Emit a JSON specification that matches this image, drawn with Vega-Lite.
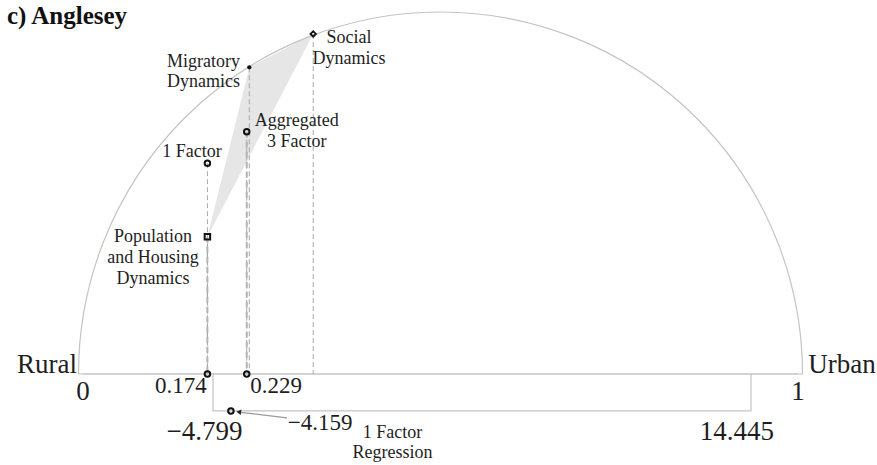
{
  "$schema": "https://vega.github.io/schema/vega-lite/v6.json",
  "width": 877,
  "height": 465,
  "autosize": {"type": "none"},
  "padding": 0,
  "background": "white",
  "config": {"view": {"stroke": null}, "text": {"font": "Liberation Serif", "color": "#1e1e1e"}},
  "title": {"text": "c) Anglesey", "font": "Liberation Serif", "fontSize": 25, "fontWeight": "bold", "color": "#111", "anchor": "start", "frame": "group", "offset": -29, "dx": 7},
  "datasets": {
    "origin": [{"x": 0.5, "y": 0}],
    "baseline": [{"x": 0, "x2": 1, "y": 0}],
    "factors": [
      {"name": "Population and Housing Dynamics", "x": 0.174, "y": 0.375, "marker": "square", "o": 1},
      {"name": "Migratory Dynamics", "x": 0.2326, "y": 0.838, "marker": "dot", "o": 2},
      {"name": "Social Dynamics", "x": 0.322, "y": 0.929, "marker": "diamond", "o": 3},
      {"name": "1 Factor", "x": 0.174, "y": 0.576, "marker": "open", "o": 4},
      {"name": "Aggregated 3 Factor", "x": 0.229, "y": 0.662, "marker": "open", "o": 5}
    ],
    "axisPts": [{"x": 0.174, "y": 0}, {"x": 0.229, "y": 0}],
    "labSmall": [
      {"t": "Social", "x": 0.372, "y": 0.904},
      {"t": "Dynamics", "x": 0.372, "y": 0.847},
      {"t": "Migratory", "x": 0.1685, "y": 0.839},
      {"t": "Dynamics", "x": 0.1685, "y": 0.784},
      {"t": "Aggregated", "x": 0.299, "y": 0.678},
      {"t": "3 Factor", "x": 0.299, "y": 0.62},
      {"t": "1 Factor", "x": 0.1524, "y": 0.593},
      {"t": "Population", "x": 0.098, "y": 0.361},
      {"t": "and Housing", "x": 0.098, "y": 0.303},
      {"t": "Dynamics", "x": 0.098, "y": 0.246}
    ],
    "labMid": [
      {"t": "0.174", "x": 0.137, "y": -0.052},
      {"t": "0.229", "x": 0.27, "y": -0.052}
    ],
    "labBig": [
      {"t": "Rural", "x": -0.0503, "y": 0.0027},
      {"t": "Urban", "x": 1.0615, "y": 0.0027},
      {"t": "0", "x": 0.0, "y": -0.071},
      {"t": "1", "x": 1.0, "y": -0.07}
    ],
    "bracket": [
      {"v": -4.799, "y": 0, "o": 1},
      {"v": -4.799, "y": -0.101, "o": 2},
      {"v": 14.445, "y": -0.101, "o": 3},
      {"v": 14.445, "y": 0, "o": 4}
    ],
    "regression": [{"v": -4.159, "y": -0.101}],
    "arrow": [
      {"v": -3.9, "y": -0.104, "o": 1},
      {"v": -2.15, "y": -0.12, "o": 2}
    ],
    "arrowHead": [{"v": -3.88, "y": -0.104}],
    "lowBig": [
      {"t": "−4.799", "v": -5.103, "y": -0.18},
      {"t": "14.445", "v": 13.944, "y": -0.18}
    ],
    "lowMid": [{"t": "−4.159", "v": -0.97, "y": -0.153}],
    "lowSmall": [
      {"t": "1 Factor", "v": 1.62, "y": -0.175},
      {"t": "Regression", "v": 1.62, "y": -0.2295}
    ]
  },
  "layer": [
    {
      "layer": [
        {
          "data": {"name": "factors"},
          "transform": [{"filter": "datum.marker != 'open'"}],
          "mark": {"type": "line", "fill": "#e6e6e6", "strokeWidth": 0, "stroke": null},
          "encoding": {
            "x": {"field": "x", "type": "quantitative", "scale": {"domain": [0, 1], "range": [83, 798], "nice": false, "zero": false}, "axis": null},
            "y": {"field": "y", "type": "quantitative", "scale": {"domain": [0, 1], "range": [374, 8], "nice": false, "zero": false}, "axis": null},
            "order": {"field": "o"}
          }
        },
        {
          "data": {"name": "origin"},
          "mark": {"type": "arc", "theta": -1.5708, "theta2": 1.5708, "radius": 362, "filled": false, "stroke": "#c4c4c4", "strokeWidth": 1.2},
          "encoding": {
            "x": {"field": "x", "type": "quantitative", "scale": {"domain": [0, 1], "range": [83, 798], "nice": false, "zero": false}},
            "y": {"field": "y", "type": "quantitative"}
          }
        },
        {
          "data": {"name": "baseline"},
          "mark": {"type": "rule", "stroke": "#c4c4c4", "strokeWidth": 1.2},
          "encoding": {
            "x": {"field": "x", "type": "quantitative", "scale": {"domain": [0, 1], "range": [83, 798], "nice": false, "zero": false}},
            "x2": {"field": "x2"},
            "y": {"field": "y", "type": "quantitative"}
          }
        },
        {
          "data": {"name": "factors"},
          "mark": {"type": "rule", "stroke": "#a8a8a8", "strokeWidth": 1, "strokeDash": [5, 3]},
          "encoding": {
            "x": {"field": "x", "type": "quantitative", "scale": {"domain": [0, 1], "range": [83, 798], "nice": false, "zero": false}},
            "y": {"field": "y", "type": "quantitative"},
            "y2": {"datum": 0}
          }
        },
        {
          "data": {"name": "factors"},
          "transform": [{"filter": "datum.marker == 'square' || datum.name == 'Aggregated 3 Factor'"}],
          "mark": {"type": "rule", "stroke": "#b4b4b4", "strokeWidth": 2, "strokeDash": [6, 4]},
          "encoding": {
            "x": {"field": "x", "type": "quantitative", "scale": {"domain": [0, 1], "range": [83, 798], "nice": false, "zero": false}},
            "y": {"field": "y", "type": "quantitative"},
            "y2": {"datum": 0}
          }
        },
        {
          "data": {"name": "factors"},
          "transform": [{"filter": "datum.marker == 'open'"}],
          "mark": {"type": "point", "shape": "circle", "size": 30, "filled": false, "stroke": "#111", "strokeWidth": 2, "opacity": 1},
          "encoding": {
            "x": {"field": "x", "type": "quantitative", "scale": {"domain": [0, 1], "range": [83, 798], "nice": false, "zero": false}},
            "y": {"field": "y", "type": "quantitative"}
          }
        },
        {
          "data": {"name": "axisPts"},
          "mark": {"type": "point", "shape": "circle", "size": 30, "filled": false, "stroke": "#111", "strokeWidth": 2, "opacity": 1},
          "encoding": {
            "x": {"field": "x", "type": "quantitative", "scale": {"domain": [0, 1], "range": [83, 798], "nice": false, "zero": false}},
            "y": {"field": "y", "type": "quantitative"}
          }
        },
        {
          "data": {"name": "factors"},
          "transform": [{"filter": "datum.marker == 'square'"}],
          "mark": {"type": "point", "shape": "square", "size": 30, "filled": false, "stroke": "#111", "strokeWidth": 2, "opacity": 1},
          "encoding": {
            "x": {"field": "x", "type": "quantitative", "scale": {"domain": [0, 1], "range": [83, 798], "nice": false, "zero": false}},
            "y": {"field": "y", "type": "quantitative"}
          }
        },
        {
          "data": {"name": "factors"},
          "transform": [{"filter": "datum.marker == 'dot'"}],
          "mark": {"type": "point", "shape": "circle", "size": 18, "filled": true, "fill": "#111", "opacity": 1},
          "encoding": {
            "x": {"field": "x", "type": "quantitative", "scale": {"domain": [0, 1], "range": [83, 798], "nice": false, "zero": false}},
            "y": {"field": "y", "type": "quantitative"}
          }
        },
        {
          "data": {"name": "factors"},
          "transform": [{"filter": "datum.marker == 'diamond'"}],
          "mark": {"type": "point", "shape": "diamond", "size": 30, "filled": false, "stroke": "#111", "strokeWidth": 1.8, "opacity": 1},
          "encoding": {
            "x": {"field": "x", "type": "quantitative", "scale": {"domain": [0, 1], "range": [83, 798], "nice": false, "zero": false}},
            "y": {"field": "y", "type": "quantitative"}
          }
        },
        {
          "data": {"name": "labSmall"},
          "mark": {"type": "text", "fontSize": 18, "align": "center", "baseline": "alphabetic"},
          "encoding": {
            "x": {"field": "x", "type": "quantitative", "scale": {"domain": [0, 1], "range": [83, 798], "nice": false, "zero": false}},
            "y": {"field": "y", "type": "quantitative"},
            "text": {"field": "t"}
          }
        },
        {
          "data": {"name": "labMid"},
          "mark": {"type": "text", "fontSize": 23, "align": "center", "baseline": "alphabetic"},
          "encoding": {
            "x": {"field": "x", "type": "quantitative", "scale": {"domain": [0, 1], "range": [83, 798], "nice": false, "zero": false}},
            "y": {"field": "y", "type": "quantitative"},
            "text": {"field": "t"}
          }
        },
        {
          "data": {"name": "labBig"},
          "mark": {"type": "text", "fontSize": 27, "align": "center", "baseline": "alphabetic"},
          "encoding": {
            "x": {"field": "x", "type": "quantitative", "scale": {"domain": [0, 1], "range": [83, 798], "nice": false, "zero": false}},
            "y": {"field": "y", "type": "quantitative"},
            "text": {"field": "t"}
          }
        }
      ]
    },
    {
      "layer": [
        {
          "data": {"name": "bracket"},
          "mark": {"type": "line", "stroke": "#c4c4c4", "strokeWidth": 1.2},
          "encoding": {
            "x": {"field": "v", "type": "quantitative", "scale": {"domain": [-4.799, 14.445], "range": [213, 751], "nice": false, "zero": false}, "axis": null},
            "y": {"field": "y", "type": "quantitative"},
            "order": {"field": "o"}
          }
        },
        {
          "data": {"name": "arrow"},
          "mark": {"type": "line", "stroke": "#9a9a9a", "strokeWidth": 1.2},
          "encoding": {
            "x": {"field": "v", "type": "quantitative", "scale": {"domain": [-4.799, 14.445], "range": [213, 751], "nice": false, "zero": false}},
            "y": {"field": "y", "type": "quantitative"},
            "order": {"field": "o"}
          }
        },
        {
          "data": {"name": "arrowHead"},
          "mark": {"type": "point", "shape": "triangle-left", "size": 30, "filled": true, "fill": "#222", "angle": 6, "opacity": 1},
          "encoding": {
            "x": {"field": "v", "type": "quantitative", "scale": {"domain": [-4.799, 14.445], "range": [213, 751], "nice": false, "zero": false}},
            "y": {"field": "y", "type": "quantitative"}
          }
        },
        {
          "data": {"name": "regression"},
          "mark": {"type": "point", "shape": "circle", "size": 30, "filled": false, "stroke": "#111", "strokeWidth": 2, "opacity": 1},
          "encoding": {
            "x": {"field": "v", "type": "quantitative", "scale": {"domain": [-4.799, 14.445], "range": [213, 751], "nice": false, "zero": false}},
            "y": {"field": "y", "type": "quantitative"}
          }
        },
        {
          "data": {"name": "lowBig"},
          "mark": {"type": "text", "fontSize": 27, "align": "center", "baseline": "alphabetic"},
          "encoding": {
            "x": {"field": "v", "type": "quantitative", "scale": {"domain": [-4.799, 14.445], "range": [213, 751], "nice": false, "zero": false}},
            "y": {"field": "y", "type": "quantitative"},
            "text": {"field": "t"}
          }
        },
        {
          "data": {"name": "lowMid"},
          "mark": {"type": "text", "fontSize": 23, "align": "center", "baseline": "alphabetic"},
          "encoding": {
            "x": {"field": "v", "type": "quantitative", "scale": {"domain": [-4.799, 14.445], "range": [213, 751], "nice": false, "zero": false}},
            "y": {"field": "y", "type": "quantitative"},
            "text": {"field": "t"}
          }
        },
        {
          "data": {"name": "lowSmall"},
          "mark": {"type": "text", "fontSize": 18, "align": "center", "baseline": "alphabetic"},
          "encoding": {
            "x": {"field": "v", "type": "quantitative", "scale": {"domain": [-4.799, 14.445], "range": [213, 751], "nice": false, "zero": false}},
            "y": {"field": "y", "type": "quantitative"},
            "text": {"field": "t"}
          }
        }
      ]
    }
  ],
  "resolve": {"scale": {"x": "independent"}}
}
